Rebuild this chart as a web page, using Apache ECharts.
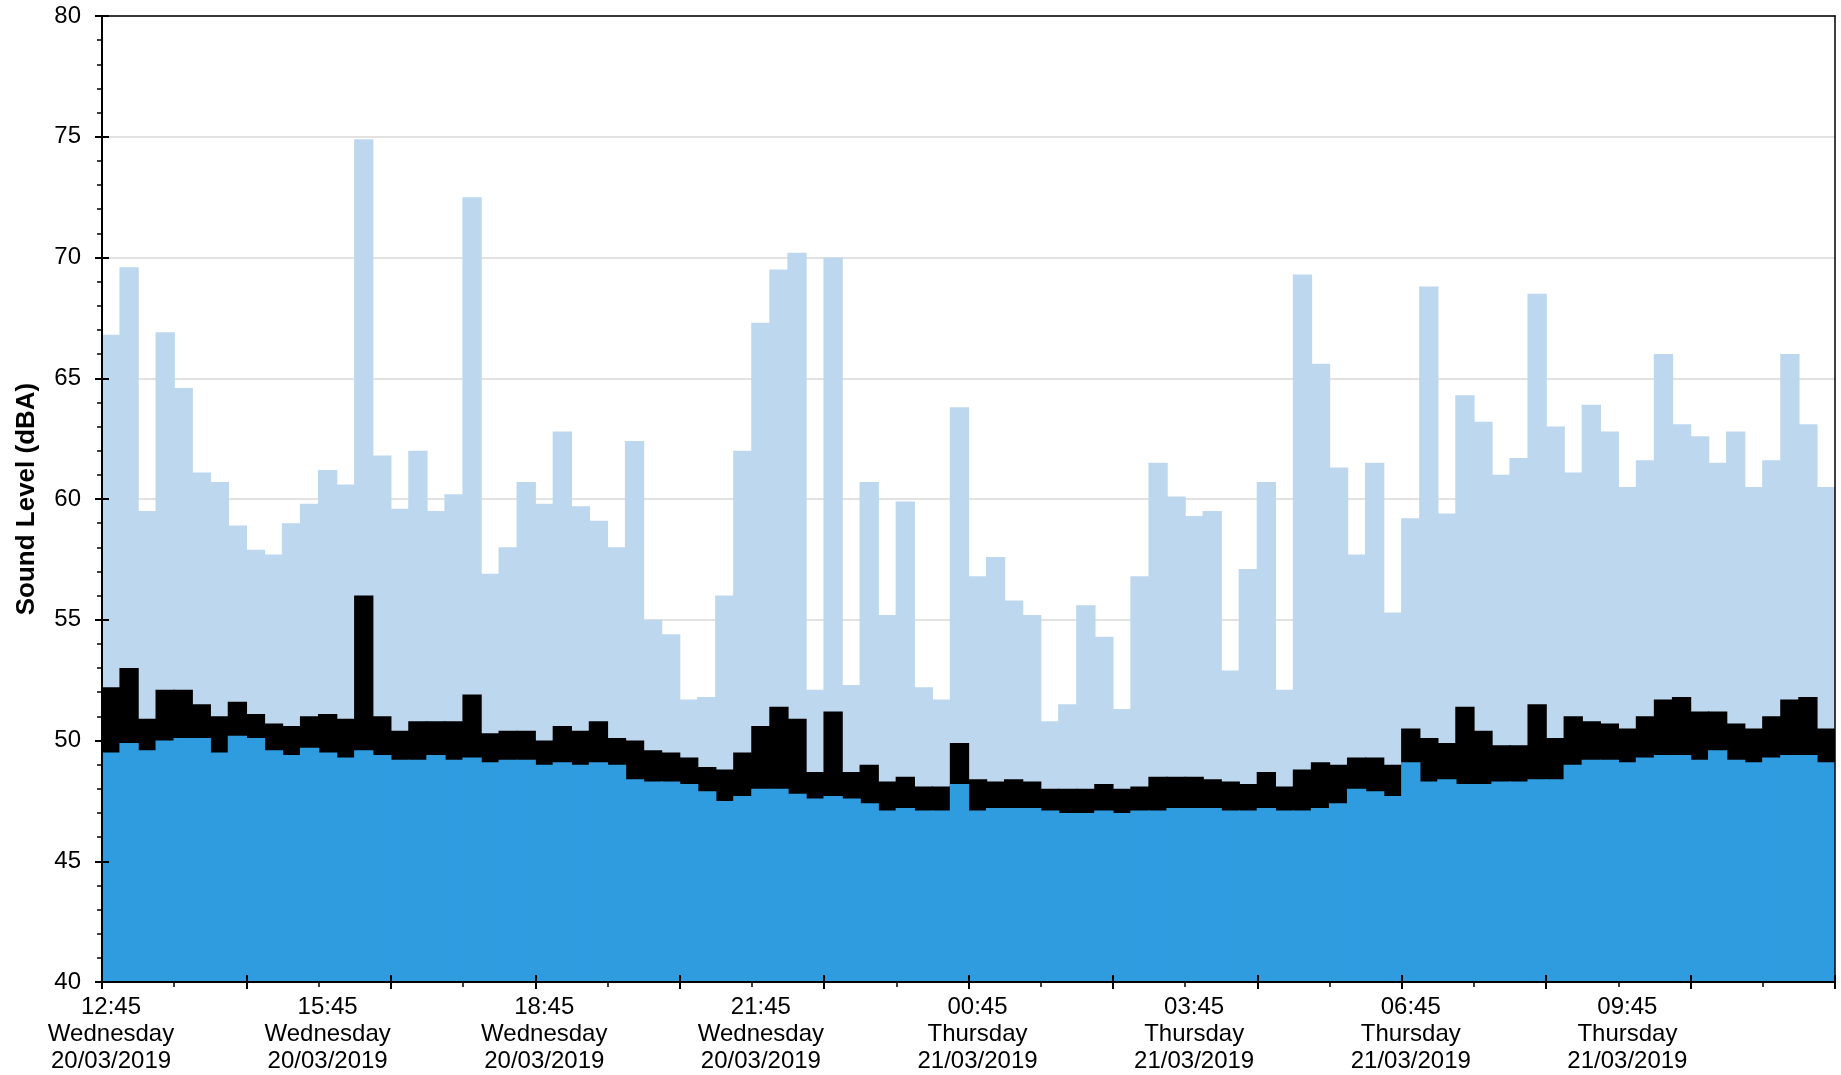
<!DOCTYPE html>
<html>
<head>
<meta charset="utf-8">
<title>Sound Level</title>
<script src="https://cdn.jsdelivr.net/npm/echarts@6/dist/echarts.min.js"></script>
<style>
  html, body { margin: 0; padding: 0; background: #ffffff; }
  #chart { width: 1841px; height: 1075px; }
</style>
</head>
<body>
<div id="chart"></div>
<script>
// 15-minute measurement periods, 12:45 Wednesday to 12:30 Thursday
const times = [
  '12:45','13:00','13:15','13:30','13:45','14:00','14:15','14:30','14:45','15:00','15:15','15:30',
  '15:45','16:00','16:15','16:30','16:45','17:00','17:15','17:30','17:45','18:00','18:15','18:30',
  '18:45','19:00','19:15','19:30','19:45','20:00','20:15','20:30','20:45','21:00','21:15','21:30',
  '21:45','22:00','22:15','22:30','22:45','23:00','23:15','23:30','23:45','00:00','00:15','00:30',
  '00:45','01:00','01:15','01:30','01:45','02:00','02:15','02:30','02:45','03:00','03:15','03:30',
  '03:45','04:00','04:15','04:30','04:45','05:00','05:15','05:30','05:45','06:00','06:15','06:30',
  '06:45','07:00','07:15','07:30','07:45','08:00','08:15','08:30','08:45','09:00','09:15','09:30',
  '09:45','10:00','10:15','10:30','10:45','11:00','11:15','11:30','11:45','12:00','12:15','12:30'
];

// Axis labels shown every 3 hours
const tickLabels = [
  '12:45\nWednesday\n20/03/2019',
  '15:45\nWednesday\n20/03/2019',
  '18:45\nWednesday\n20/03/2019',
  '21:45\nWednesday\n20/03/2019',
  '00:45\nThursday\n21/03/2019',
  '03:45\nThursday\n21/03/2019',
  '06:45\nThursday\n21/03/2019',
  '09:45\nThursday\n21/03/2019'
];

// Maximum level per period (dBA)
const lmax = [
  66.8, 69.6, 59.5, 66.9, 64.6, 61.1, 60.7, 58.9, 57.9, 57.7, 59.0, 59.8,
  61.2, 60.6, 74.9, 61.8, 59.6, 62.0, 59.5, 60.2, 72.5, 56.9, 58.0, 60.7,
  59.8, 62.8, 59.7, 59.1, 58.0, 62.4, 55.0, 54.4, 51.7, 51.8, 56.0, 62.0,
  67.3, 69.5, 70.2, 52.1, 70.0, 52.3, 60.7, 55.2, 59.9, 52.2, 51.7, 63.8,
  56.8, 57.6, 55.8, 55.2, 50.8, 51.5, 55.6, 54.3, 51.3, 56.8, 61.5, 60.1,
  59.3, 59.5, 52.9, 57.1, 60.7, 52.1, 69.3, 65.6, 61.3, 57.7, 61.5, 55.3,
  59.2, 68.8, 59.4, 64.3, 63.2, 61.0, 61.7, 68.5, 63.0, 61.1, 63.9, 62.8,
  60.5, 61.6, 66.0, 63.1, 62.6, 61.5, 62.8, 60.5, 61.6, 66.0, 63.1, 60.5
];

// Equivalent continuous level per period (dBA)
const leq = [
  52.2, 53.0, 50.9, 52.1, 52.1, 51.5, 51.0, 51.6, 51.1, 50.7, 50.6, 51.0,
  51.1, 50.9, 56.0, 51.0, 50.4, 50.8, 50.8, 50.8, 51.9, 50.3, 50.4, 50.4,
  50.0, 50.6, 50.4, 50.8, 50.1, 50.0, 49.6, 49.5, 49.3, 48.9, 48.8, 49.5,
  50.6, 51.4, 50.9, 48.7, 51.2, 48.7, 49.0, 48.3, 48.5, 48.1, 48.1, 49.9,
  48.4, 48.3, 48.4, 48.3, 48.0, 48.0, 48.0, 48.2, 48.0, 48.1, 48.5, 48.5,
  48.5, 48.4, 48.3, 48.2, 48.7, 48.1, 48.8, 49.1, 49.0, 49.3, 49.3, 49.0,
  50.5, 50.1, 49.9, 51.4, 50.4, 49.8, 49.8, 51.5, 50.1, 51.0, 50.8, 50.7,
  50.5, 51.0, 51.7, 51.8, 51.2, 51.2, 50.7, 50.5, 51.0, 51.7, 51.8, 50.5
];

// Background (90th percentile) level per period (dBA)
const l90 = [
  49.5, 49.9, 49.6, 50.0, 50.1, 50.1, 49.5, 50.2, 50.1, 49.6, 49.4, 49.7,
  49.5, 49.3, 49.6, 49.4, 49.2, 49.2, 49.4, 49.2, 49.3, 49.1, 49.2, 49.2,
  49.0, 49.1, 49.0, 49.1, 49.0, 48.4, 48.3, 48.3, 48.2, 47.9, 47.5, 47.7,
  48.0, 48.0, 47.8, 47.6, 47.7, 47.6, 47.4, 47.1, 47.2, 47.1, 47.1, 48.2,
  47.1, 47.2, 47.2, 47.2, 47.1, 47.0, 47.0, 47.1, 47.0, 47.1, 47.1, 47.2,
  47.2, 47.2, 47.1, 47.1, 47.2, 47.1, 47.1, 47.2, 47.4, 48.0, 47.9, 47.7,
  49.1, 48.3, 48.4, 48.2, 48.2, 48.3, 48.3, 48.4, 48.4, 49.0, 49.2, 49.2,
  49.1, 49.3, 49.4, 49.4, 49.2, 49.6, 49.2, 49.1, 49.3, 49.4, 49.4, 49.1
];

const FONT = '"Liberation Sans", Arial, Helvetica, sans-serif';
const Y_MIN = 40, Y_MAX = 80, Y_STEP = 5;
const LINE = { color: '#000000', width: 2 };

// Helper: a bare category axis used for tick overlays
function catAxis(extra) {
  return Object.assign({
    type: 'category', data: times, boundaryGap: true, position: 'bottom',
    axisLine: { show: false }, axisTick: { show: false },
    axisLabel: { show: false }, splitLine: { show: false }, z: 10
  }, extra);
}
// Helper: a bare value axis sharing the same scale
function valAxis(extra) {
  return Object.assign({
    type: 'value', min: Y_MIN, max: Y_MAX, interval: Y_STEP, position: 'left',
    axisLine: { show: false }, axisTick: { show: false },
    axisLabel: { show: false }, splitLine: { show: false }, z: 10
  }, extra);
}

// Bars are slightly wider than their band so neighbours overlap by a hair
// and no anti-aliased seam shows between adjacent periods
function barSeries(name, data, color) {
  return {
    type: 'bar', name: name, data: data,
    xAxisIndex: 0, yAxisIndex: 0,
    barWidth: '107%', barGap: '-100%', barCategoryGap: '0%',
    itemStyle: { color: color },
    silent: true, clip: true
  };
}

const chart = echarts.init(document.getElementById('chart'), null, { renderer: 'canvas' });
chart.setOption({
  animation: false,
  backgroundColor: '#ffffff',
  grid: { left: 102, right: 6, top: 16, bottom: 93, containLabel: false, outerBoundsMode: 'none' },
  xAxis: [
    // main time axis: line, labels, outward major ticks
    catAxis({
      axisLine: { show: true, onZero: false, lineStyle: LINE },
      axisTick: { show: true, interval: 7, length: 7, lineStyle: LINE },
      axisLabel: {
        show: true, interval: 11, margin: 12,
        fontFamily: FONT, fontSize: 24, lineHeight: 27, color: '#000000', align: 'center',
        formatter: function (value, index) { return tickLabels[Math.round(index / 12)]; }
      }
    }),
    // inward half of the major ticks
    catAxis({ axisTick: { show: true, inside: true, interval: 7, length: 7, lineStyle: LINE } }),
    // hourly minor ticks
    catAxis({ axisTick: { show: true, interval: 3, length: 5, lineStyle: { color: '#000000', width: 1.5 } } }),
    // top frame line
    catAxis({ position: 'top', axisLine: { show: true, onZero: false, lineStyle: { color: '#000000', width: 1.5 } } })
  ],
  yAxis: [
    // scale used by the bars, with the light gridlines behind them
    valAxis({ z: 0, splitLine: { show: true, lineStyle: { color: '#d9d9d9', width: 1.5 } } }),
    // left axis: line, labels, outward ticks, 1 dBA minor ticks and title
    valAxis({
      name: 'Sound Level (dBA)', nameLocation: 'middle', nameRotate: 90, nameGap: 62,
      nameTextStyle: { fontFamily: FONT, fontSize: 26, fontWeight: 'bold', color: '#000000' },
      axisLine: { show: true, onZero: false, lineStyle: LINE },
      axisTick: { show: true, length: 7, lineStyle: LINE },
      minorTick: { show: true, splitNumber: 5, length: 5, lineStyle: { color: '#000000', width: 1.5 } },
      axisLabel: { show: true, margin: 21, fontFamily: FONT, fontSize: 24, color: '#000000' }
    }),
    // inward half of the major ticks
    valAxis({ axisTick: { show: true, inside: true, length: 7, lineStyle: LINE } }),
    // right frame line
    valAxis({ position: 'right', axisLine: { show: true, onZero: false, lineStyle: { color: '#000000', width: 1.5 } } })
  ],
  series: [
    barSeries('LAmax', lmax, '#bdd7ee'),
    barSeries('LAeq', leq, '#000000'),
    barSeries('LA90', l90, '#2e9cdf')
  ]
});
</script>
</body>
</html>
